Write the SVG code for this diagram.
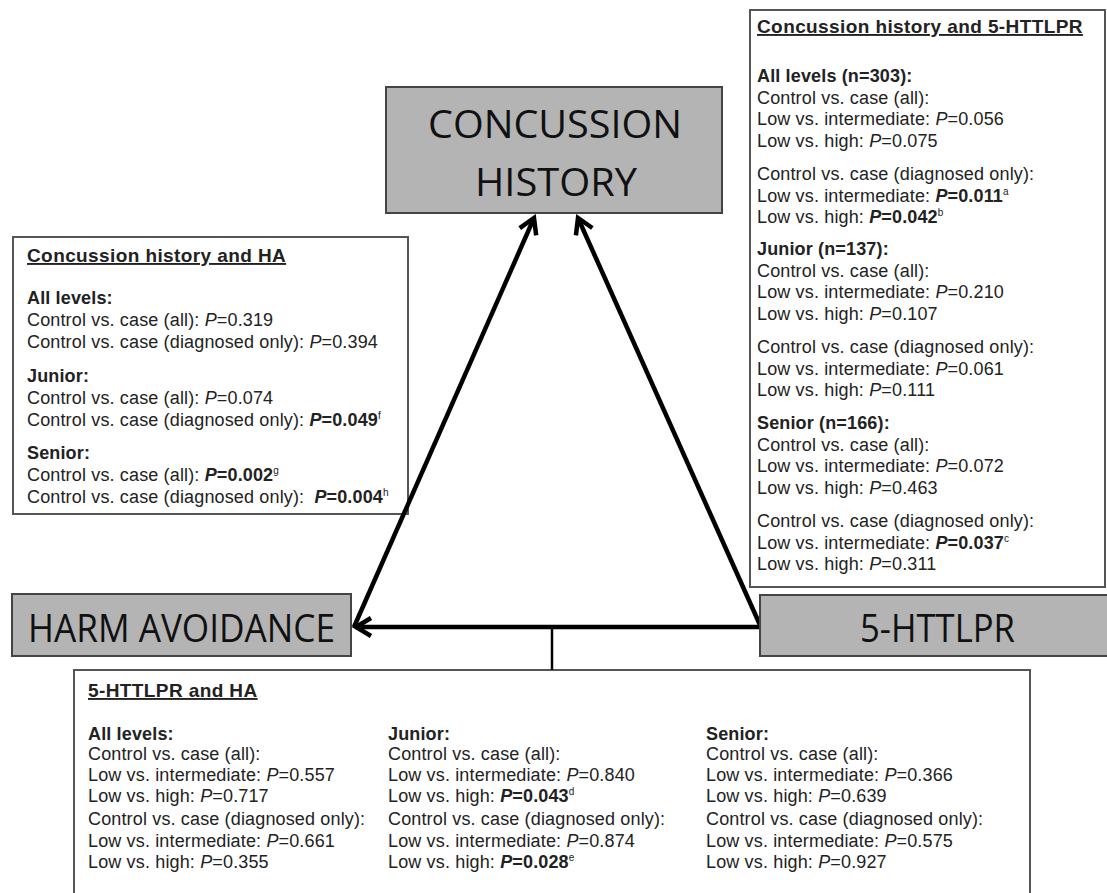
<svg xmlns="http://www.w3.org/2000/svg" width="1107" height="893" viewBox="0 0 1107 893">
<defs>
<style>
.t{font-family:"Liberation Sans",Arial,sans-serif;font-size:18px;fill:#222;letter-spacing:0.15px}
.b{font-weight:bold}
.h{font-weight:bold;font-size:19px;letter-spacing:0.4px;text-decoration:underline}
.i{font-style:italic}
.sup{font-size:10px}
.box{fill:#fff;stroke:#555;stroke-width:2}
.node rect{fill:#b4b4b4;stroke:#444;stroke-width:2}
.node text{font-family:"Open Sans",sans-serif;font-size:39px;fill:#111;text-anchor:middle}
.conn path{fill:none;stroke:#000;stroke-width:4.5}
</style>
<marker id="ah" markerUnits="userSpaceOnUse" markerWidth="40" markerHeight="40" viewBox="-20 -20 40 40" refX="0" refY="0" orient="auto" overflow="visible">
<path d="M-15,-9 L0,0 L-15,9" fill="none" stroke="#000" stroke-width="4.5"/>
</marker>
</defs>
<rect width="1107" height="893" fill="#fff"/>

<g id="box-ch-5httlpr">
<rect class="box" x="750" y="10" width="355" height="577"/>
<g class="t">
<text x="757" y="33" class="h">Concussion history and 5-HTTLPR</text>
<text x="757" y="82" class="b">All levels (n=303):</text>
<text x="757" y="103.5">Control vs. case (all):</text>
<text x="757" y="125">Low vs. intermediate: <tspan class="i">P</tspan>=0.056</text>
<text x="757" y="146.5">Low vs. high: <tspan class="i">P</tspan>=0.075</text>
<text x="757" y="180">Control vs. case (diagnosed only):</text>
<text x="757" y="201.5">Low vs. intermediate: <tspan class="b"><tspan class="i">P</tspan>=0.011</tspan><tspan class="sup" dy="-7">a</tspan></text>
<text x="757" y="223">Low vs. high: <tspan class="b"><tspan class="i">P</tspan>=0.042</tspan><tspan class="sup" dy="-7">b</tspan></text>
<text x="757" y="255" class="b">Junior (n=137):</text>
<text x="757" y="276.5">Control vs. case (all):</text>
<text x="757" y="298">Low vs. intermediate: <tspan class="i">P</tspan>=0.210</text>
<text x="757" y="319.5">Low vs. high: <tspan class="i">P</tspan>=0.107</text>
<text x="757" y="353">Control vs. case (diagnosed only):</text>
<text x="757" y="374.5">Low vs. intermediate: <tspan class="i">P</tspan>=0.061</text>
<text x="757" y="396">Low vs. high: <tspan class="i">P</tspan>=0.111</text>
<text x="757" y="429" class="b">Senior (n=166):</text>
<text x="757" y="450.5">Control vs. case (all):</text>
<text x="757" y="472">Low vs. intermediate: <tspan class="i">P</tspan>=0.072</text>
<text x="757" y="493.5">Low vs. high: <tspan class="i">P</tspan>=0.463</text>
<text x="757" y="527">Control vs. case (diagnosed only):</text>
<text x="757" y="548.5">Low vs. intermediate: <tspan class="b"><tspan class="i">P</tspan>=0.037</tspan><tspan class="sup" dy="-7">c</tspan></text>
<text x="757" y="570">Low vs. high: <tspan class="i">P</tspan>=0.311</text>
</g>
</g>

<g id="box-ch-ha">
<rect class="box" x="13" y="237" width="395" height="277"/>
<g class="t">
<text x="27" y="262" class="h">Concussion history and HA</text>
<text x="27" y="304" class="b">All levels:</text>
<text x="27" y="326">Control vs. case (all): <tspan class="i">P</tspan>=0.319</text>
<text x="27" y="348">Control vs. case (diagnosed only): <tspan class="i">P</tspan>=0.394</text>
<text x="27" y="382" class="b">Junior:</text>
<text x="27" y="404">Control vs. case (all): <tspan class="i">P</tspan>=0.074</text>
<text x="27" y="426">Control vs. case (diagnosed only): <tspan class="b"><tspan class="i">P</tspan>=0.049</tspan><tspan class="sup" dy="-7">f</tspan></text>
<text x="27" y="459" class="b">Senior:</text>
<text x="27" y="481">Control vs. case (all): <tspan class="b"><tspan class="i">P</tspan>=0.002</tspan><tspan class="sup" dy="-7">g</tspan></text>
<text x="27" y="503">Control vs. case (diagnosed only): <tspan class="b" dx="5"><tspan class="i">P</tspan>=0.004</tspan><tspan class="sup" dy="-7">h</tspan></text>
</g>
</g>

<g id="box-5httlpr-ha">
<rect class="box" x="74" y="670" width="956" height="240"/>
<g class="t">
<text x="88" y="697" class="h">5-HTTLPR and HA</text>
<text x="88" y="740" class="b">All levels:</text>
<text x="88" y="760">Control vs. case (all):</text>
<text x="88" y="781">Low vs. intermediate: <tspan class="i">P</tspan>=0.557</text>
<text x="88" y="802">Low vs. high: <tspan class="i">P</tspan>=0.717</text>
<text x="88" y="825">Control vs. case (diagnosed only):</text>
<text x="88" y="846.5">Low vs. intermediate: <tspan class="i">P</tspan>=0.661</text>
<text x="88" y="868">Low vs. high: <tspan class="i">P</tspan>=0.355</text>
<text x="388" y="740" class="b">Junior:</text>
<text x="388" y="760">Control vs. case (all):</text>
<text x="388" y="781">Low vs. intermediate: <tspan class="i">P</tspan>=0.840</text>
<text x="388" y="802">Low vs. high: <tspan class="b"><tspan class="i">P</tspan>=0.043</tspan><tspan class="sup" dy="-7">d</tspan></text>
<text x="388" y="825">Control vs. case (diagnosed only):</text>
<text x="388" y="846.5">Low vs. intermediate: <tspan class="i">P</tspan>=0.874</text>
<text x="388" y="868">Low vs. high: <tspan class="b"><tspan class="i">P</tspan>=0.028</tspan><tspan class="sup" dy="-7">e</tspan></text>
<text x="706" y="740" class="b">Senior:</text>
<text x="706" y="760">Control vs. case (all):</text>
<text x="706" y="781">Low vs. intermediate: <tspan class="i">P</tspan>=0.366</text>
<text x="706" y="802">Low vs. high: <tspan class="i">P</tspan>=0.639</text>
<text x="706" y="825">Control vs. case (diagnosed only):</text>
<text x="706" y="846.5">Low vs. intermediate: <tspan class="i">P</tspan>=0.575</text>
<text x="706" y="868">Low vs. high: <tspan class="i">P</tspan>=0.927</text>
</g>
</g>

<g id="connectors" class="conn">
<path d="M354,627 L534,218" marker-end="url(#ah)"/>
<path d="M760,625 L578,218" marker-end="url(#ah)"/>
<path d="M760,627 L356,627" marker-end="url(#ah)"/>
<path d="M552,627 L552,670" style="stroke-width:2.5"/>
</g>

<g id="node-concussion" class="node">
<rect x="386" y="87" width="336" height="126"/>
<text x="555" y="138" textLength="254" lengthAdjust="spacingAndGlyphs">CONCUSSION</text>
<text x="556" y="196" textLength="162" lengthAdjust="spacingAndGlyphs">HISTORY</text>
</g>

<g id="node-ha" class="node">
<rect x="12" y="594" width="339" height="62"/>
<text x="181.5" y="642" textLength="307" lengthAdjust="spacingAndGlyphs">HARM AVOIDANCE</text>
</g>

<g id="node-5httlpr" class="node">
<rect x="760" y="595" width="352" height="61"/>
<text x="937.5" y="642" textLength="155" lengthAdjust="spacingAndGlyphs">5-HTTLPR</text>
</g>
</svg>
